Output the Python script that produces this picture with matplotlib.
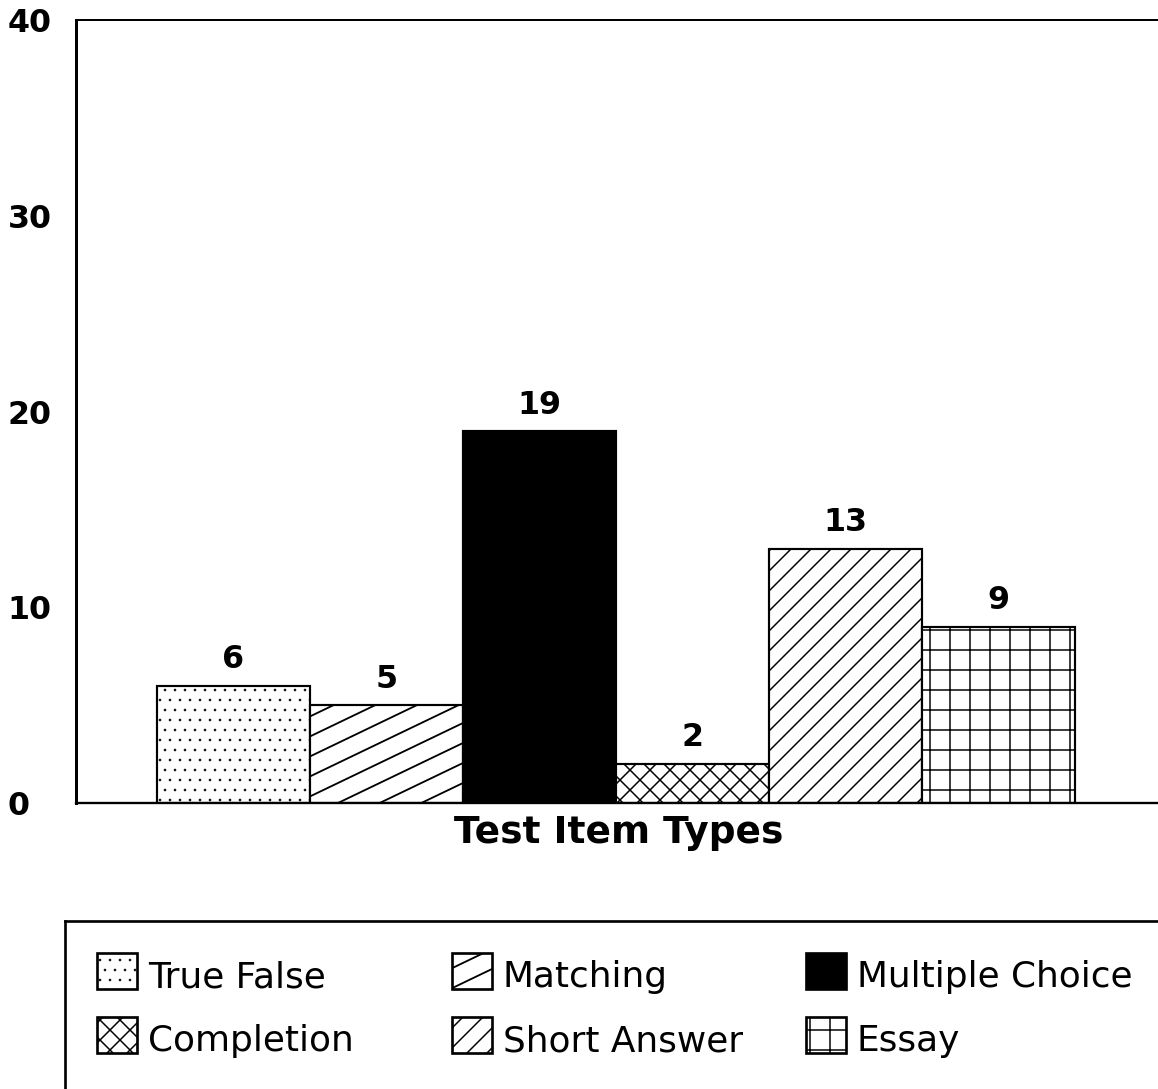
import matplotlib
matplotlib.use("Agg")
import matplotlib.pyplot as plt
from matplotlib.patches import Rectangle
from matplotlib.collections import LineCollection

# Counts of test items by type
categories = ["True False", "Matching", "Multiple Choice",
              "Completion", "Short Answer", "Essay"]
counts = [6, 5, 19, 2, 13, 9]
y_ticks = [0, 10, 20, 30, 40]
x_label = "Test Item Types"

# Fill style for each category: (face colour, hatch, slanted custom hatch)
styles = {
    "True False":      ("white", "..", False),
    "Matching":        ("white", None, True),
    "Multiple Choice": ("black", None, False),
    "Completion":      ("white", "xx", False),
    "Short Answer":    ("white", "//", False),
    "Essay":           ("white", "+", False),
}

DPI = 120
W, H = 1158, 1089
plt.rcParams["hatch.linewidth"] = 0.9
plt.rcParams["font.family"] = ["DejaVu Sans"]

fig = plt.figure(figsize=(W / DPI, H / DPI), dpi=DPI)
fig.patch.set_facecolor("white")


def slanted_hatch(ax, patch, slope, step, lw=1.0):
    """Shallow diagonal lines (slope in pixels) clipped to a patch."""
    bb = patch.get_window_extent()
    to_data = ax.transData.inverted()
    segs = []
    c = bb.y0 - slope * bb.width
    while c < bb.y1 + step:
        seg = [(bb.x0, c), (bb.x1, c + slope * bb.width)]
        segs.append(to_data.transform(seg))
        c += step
    lc = LineCollection(segs, colors="black", linewidths=lw, zorder=3)
    ax.add_collection(lc, autolim=False)
    lc.set_clip_path(patch)


def thin_dots(patch, hatch):
    """Finer stroke for the dotted fill."""
    if hatch == ".." and hasattr(patch, "set_hatch_linewidth"):
        patch.set_hatch_linewidth(0.35)


# ---- main bar chart ----
ax = fig.add_axes([76 / W, 1 - 803 / H, (1162 - 76) / W, (803 - 20) / H])
xs = list(range(len(categories)))
ax.set_xlim(-1.03, 6.07)
ax.set_ylim(0, 40)

bars = ax.bar(xs, counts, width=1.0, color="white", edgecolor="black",
              linewidth=1.3, zorder=2)
for bar, name, val in zip(bars, categories, counts):
    face, hatch, slanted = styles[name]
    bar.set_facecolor(face)
    if hatch:
        bar.set_hatch(hatch)
        thin_dots(bar, hatch)
    if slanted:
        slanted_hatch(ax, bar, 0.48, 20, lw=1.1)
    ax.annotate(str(val), (bar.get_x() + bar.get_width() / 2, val),
                xytext=(0, 10.5), textcoords="offset points",
                ha="center", va="baseline", fontsize=19, fontweight="bold")

ax.set_yticks(y_ticks)
ax.set_yticklabels([str(t) for t in y_ticks], fontsize=19, fontweight="bold",
                   ha="left")
ax.tick_params(axis="y", length=0, pad=41)
ax.set_xticks([])
ax.set_xlabel(x_label, fontsize=22.5, fontweight="bold", labelpad=7)
ax.spines["right"].set_visible(False)
ax.spines["left"].set_linewidth(1.8)
ax.spines["top"].set_linewidth(1.2)
ax.spines["bottom"].set_linewidth(1.4)

# ---- legend panel ----
lx0, ly0, lw_, lh_ = 65, 921, 1135, 220
lax = fig.add_axes([lx0 / W, 1 - (ly0 + lh_) / H, lw_ / W, lh_ / H])
lax.set_xlim(0, lw_)
lax.set_ylim(lh_, 0)
lax.set_xticks([])
lax.set_yticks([])
for side in ("right", "bottom"):
    lax.spines[side].set_visible(False)
lax.spines["left"].set_linewidth(1.6)
lax.spines["top"].set_linewidth(1.6)

col_x = [32, 387, 741]
row_y = [32, 96]
for i, name in enumerate(categories):
    r, c = divmod(i, 3)
    face, hatch, slanted = styles[name]
    x, y = col_x[c], row_y[r]
    rect = Rectangle((x, y), 40, 36, facecolor=face, edgecolor="black",
                     linewidth=1.6, hatch=hatch)
    thin_dots(rect, hatch)
    lax.add_patch(rect)
    if slanted:
        slanted_hatch(lax, rect, 0.48, 20, lw=1.1)
    lax.text(x + 51, y + 34, name, fontsize=21.5, va="baseline", ha="left")

fig.savefig("out.png", dpi=DPI, facecolor="white")
